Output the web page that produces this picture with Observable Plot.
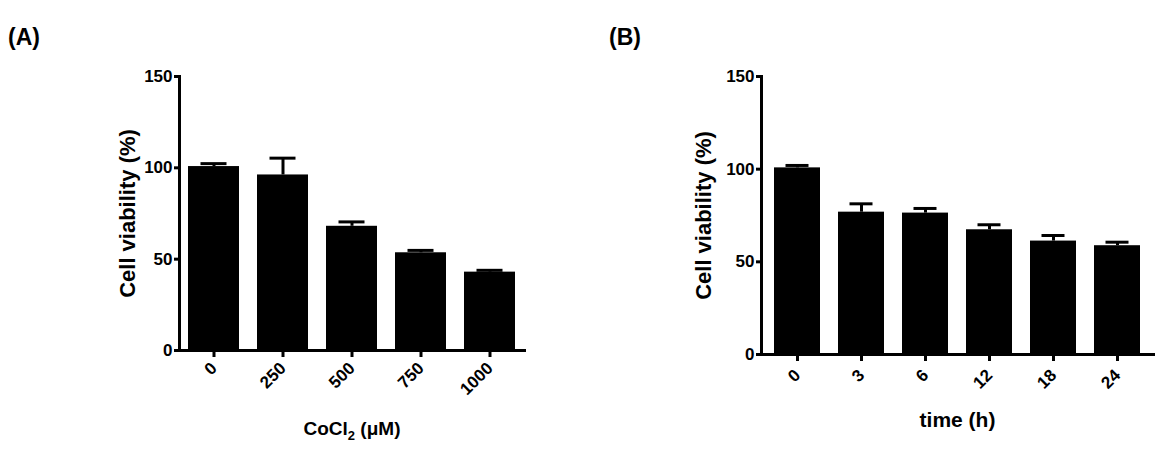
<!DOCTYPE html>
<html>
<head>
<meta charset="utf-8">
<script src="https://cdn.jsdelivr.net/npm/d3@7"></script>
<script src="https://cdn.jsdelivr.net/npm/@observablehq/plot@0.6"></script>
<style>
  html, body { margin: 0; padding: 0; background: white; }
  #wrap { position: relative; width: 1172px; height: 474px; overflow: hidden; font-family: "Liberation Sans", Arial, sans-serif; }
  .panel { position: absolute; top: 0; }
  .plabel { position: absolute; font-weight: bold; font-size: 23px; line-height: 1; top: 26px; color: black; }
</style>
</head>
<body>
<div id="wrap">
  <div class="plabel" style="left:8px">(A)</div>
  <div class="plabel" style="left:609px">(B)</div>
  <div id="pa" class="panel" style="left:0px"></div>
  <div id="pb" class="panel" style="left:586px"></div>
</div>
<script>
// Panel A: CoCl2 concentration
const catsA = ["0", "250", "500", "750", "1000"];
const meanA = [100.7, 96.1, 68.0, 53.5, 42.9];
const semA  = [1.6, 9.2, 2.4, 1.3, 1.0];

// Panel B: time
const catsB = ["0", "3", "6", "12", "18", "24"];
const meanB = [100.7, 76.8, 76.3, 67.3, 61.2, 58.7];
const semB  = [1.3, 4.5, 2.5, 2.7, 3.0, 1.9];

const yTicks = [0, 50, 100, 150];
const yTitle = "Cell viability (%)";
const xTitleA = "CoCl2 (μM)";
const xTitleB = "time (h)";

function panel(cats, mean, sem, o) {
  const data = cats.map((c, i) => ({cat: c, mean: mean[i], sem: sem[i]}));
  return Plot.plot({
    width: o.width, height: 474,
    marginTop: 76, marginLeft: o.marginLeft, marginRight: o.marginRight, marginBottom: o.marginBottom,
    style: {fontFamily: "'Liberation Sans', Arial, sans-serif", fontWeight: "bold", fontSize: "16px", color: "black", background: "transparent", overflow: "visible"},
    x: {domain: cats, paddingInner: o.padIn, paddingOuter: o.padOut, label: null},
    y: {domain: [0, 150], label: null},
    marks: [
      Plot.barY(data, {x: "cat", y: "mean", fill: "black"}),
      Plot.ruleX(data, {x: "cat", y1: "mean", y2: d => d.mean + d.sem, stroke: "black", strokeWidth: 3}),
      Plot.tickY(data, {x: "cat", y: d => d.mean + d.sem, stroke: "black", strokeWidth: 3, insetLeft: o.capInset, insetRight: o.capInset}),
      Plot.frame({anchor: "left", stroke: "black", strokeWidth: 3}),
      Plot.frame({anchor: "bottom", stroke: "black", strokeWidth: 3}),
      Plot.axisY({ticks: yTicks, tickSize: 5, tickPadding: 2, strokeWidth: 3, label: null, fontSize: 17}),
      Plot.axisX({tickSize: 7, tickPadding: o.xPad, tickRotate: -45, strokeWidth: 3, label: null, fontSize: 17}),
      Plot.text([yTitle], {text: d => d, frameAnchor: "left", dx: -o.yOff, rotate: -90, textAnchor: "middle", lineAnchor: "middle", fontSize: 22, fontWeight: "bold", fill: "black"}),
      Plot.text([o.xTitle], {text: d => d, frameAnchor: "bottom", dy: o.xDy, textAnchor: "middle", lineAnchor: "middle", fontSize: o.xFont, fontWeight: "bold", fill: "black"})
    ]
  });
}

const a = panel(catsA, meanA, semA, {width: 586, marginLeft: 179, marginRight: 62, marginBottom: 124, padIn: 0.26, padOut: 0.13, capInset: 12.5, yOff: 52, xTitle: xTitleA, xDy: 78, xFont: 19, xPad: 8});
const b = panel(catsB, meanB, semB, {width: 586, marginLeft: 175, marginRight: 19, marginBottom: 120, padIn: 0.285, padOut: 0.16, capInset: 11.5, yOff: 58, xTitle: xTitleB, xDy: 66, xFont: 21, xPad: 11});
document.getElementById("pa").appendChild(a);
document.getElementById("pb").appendChild(b);

// subscript the 2 in CoCl2
a.querySelectorAll("text").forEach(t => {
  if (t.textContent === xTitleA) {
    t.textContent = "";
    const ns = "http://www.w3.org/2000/svg";
    const s1 = document.createElementNS(ns, "tspan"); s1.textContent = "CoCl";
    const s2 = document.createElementNS(ns, "tspan"); s2.textContent = "2"; s2.setAttribute("font-size", "13"); s2.setAttribute("dy", "5");
    const s3 = document.createElementNS(ns, "tspan"); s3.textContent = " (μM)"; s3.setAttribute("dy", "-5");
    t.append(s1, s2, s3);
  }
});
</script>
</body>
</html>
